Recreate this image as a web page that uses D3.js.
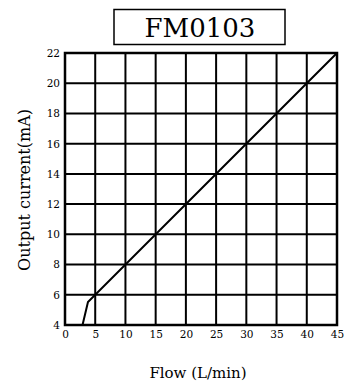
<!DOCTYPE html>
<html><head><meta charset="utf-8">
<script src="https://cdn.jsdelivr.net/npm/d3@7"></script>
<style>body{margin:0;background:#fff}svg{display:block}</style>
</head><body><svg id="c" width="352" height="387"></svg>
<script>
const title = "FM0103";
const xTicks = [0,5,10,15,20,25,30,35,40,45];
const yTicks = [4,6,8,10,12,14,16,18,20,22];
const flow = [0, 2.9, 3.8, 45];
const current = [4, 4, 5.52, 22];
const xLabel = "Flow (L/min)";
const yLabel = "Output current(mA)";

const svg = d3.select("#c");
const font = "'DejaVu Serif','Liberation Serif',serif";
const L=65, R=337, T=53, B=325;
const x = d3.scaleLinear().domain([0,45]).range([L,R]);
const y = d3.scaleLinear().domain([4,22]).range([B,T]);

// grid
svg.append("g").selectAll("line.v").data(xTicks).join("line")
  .attr("x1",d=>x(d)).attr("x2",d=>x(d)).attr("y1",T).attr("y2",B)
  .attr("stroke","#000").attr("stroke-width",2);
svg.append("g").selectAll("line.h").data(yTicks).join("line")
  .attr("y1",d=>y(d)).attr("y2",d=>y(d)).attr("x1",L).attr("x2",R)
  .attr("stroke","#000").attr("stroke-width",2);
svg.append("rect").attr("x",L).attr("y",T).attr("width",R-L).attr("height",B-T)
  .attr("fill","none").attr("stroke","#000").attr("stroke-width",2.5);

// axes labels
const xa = svg.append("g").attr("transform",`translate(0,${B})`)
  .call(d3.axisBottom(x).tickValues(xTicks).tickSize(0).tickPadding(6).tickFormat(d3.format("d")));
xa.select(".domain").remove();
xa.attr("font-family",null).attr("font-size",null);
xa.selectAll("text").style("font-family",font).style("font-size","10.5px").attr("fill","#000");
const ya = svg.append("g").attr("transform",`translate(${L},0)`)
  .call(d3.axisLeft(y).tickValues(yTicks).tickSize(0).tickPadding(5).tickFormat(d3.format("d")));
ya.select(".domain").remove();
ya.attr("font-family",null).attr("font-size",null);
ya.selectAll("text").style("font-family",font).style("font-size","10.5px").attr("fill","#000");

// data line
const pts = flow.map((f,i)=>[f,current[i]]);
svg.append("path").datum(pts)
  .attr("d",d3.line().x(d=>x(d[0])).y(d=>y(d[1])))
  .attr("fill","none").attr("stroke","#000").attr("stroke-width",2);

// title
svg.append("rect").attr("x",114).attr("y",9.5).attr("width",171).attr("height",35)
  .attr("fill","#fff").attr("stroke","#000").attr("stroke-width",1.5);
svg.append("text").attr("x",200).attr("y",36.5).attr("text-anchor","middle")
  .style("font-family",font).style("font-size","26px").text(title);

svg.append("text").attr("x",198).attr("y",378).attr("text-anchor","middle")
  .style("font-family",font).style("font-size","15px").text(xLabel);
svg.append("text").attr("transform","translate(30,190) rotate(-90)").attr("text-anchor","middle")
  .style("font-family",font).style("font-size","16px").text(yLabel);
</script></body></html>
